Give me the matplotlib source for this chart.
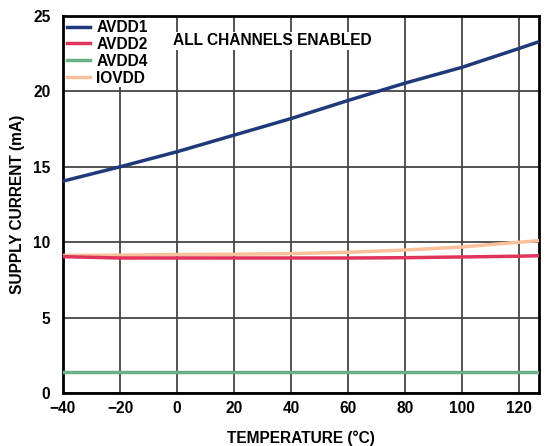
import matplotlib.pyplot as plt

temp = [-40, -20, 0, 20, 40, 60, 80, 100, 120, 127]
avdd1 = [14.05, 15.0, 16.0, 17.1, 18.2, 19.4, 20.55, 21.6, 22.85, 23.3]
avdd2 = [9.04, 8.95, 8.95, 8.95, 8.95, 8.95, 8.97, 9.02, 9.07, 9.1]
avdd4 = [1.37, 1.37, 1.37, 1.37, 1.37, 1.37, 1.37, 1.37, 1.37, 1.37]
iovdd = [9.12, 9.14, 9.18, 9.2, 9.24, 9.33, 9.48, 9.68, 10.0, 10.1]

xticks = [-40, -20, 0, 20, 40, 60, 80, 100, 120]
xticklabels = ['\u221240', '\u221220', '0', '20', '40', '60', '80', '100', '120']
yticks = [0, 5, 10, 15, 20, 25]

plt.rcParams['font.family'] = ['Liberation Sans', 'DejaVu Sans']
plt.rcParams['font.weight'] = 'bold'

fs = 11.2

fig = plt.figure(figsize=(5.6, 4.46), dpi=100)
ax = fig.add_axes([0.1125, 0.119, 0.85, 0.845])

ax.plot(temp, avdd1, color='#1f3a7a', lw=2.5, label='AVDD1', zorder=5)
ax.plot(temp, avdd2, color='#e0345a', lw=2.5, label='AVDD2', zorder=4)
ax.plot(temp, avdd4, color='#6ab187', lw=2.5, label='AVDD4', zorder=4)
ax.plot(temp, iovdd, color='#f9c09b', lw=2.5, label='IOVDD', zorder=3)

ax.set_xlim(-40, 127)
ax.set_ylim(0, 25)
ax.set_xticks(xticks)
ax.set_xticklabels(xticklabels)
ax.set_yticks(yticks)
ax.tick_params(length=0, labelsize=fs)
ax.tick_params(axis='x', pad=6)
ax.tick_params(axis='y', pad=9)
ax.grid(True, color='#444444', lw=1.3)
ax.set_axisbelow(True)
for s in ax.spines.values():
    s.set_linewidth(2)

ax.set_xlabel('TEMPERATURE (\u00b0C)', fontsize=fs, fontweight='bold', labelpad=10)
ax.set_ylabel('SUPPLY CURRENT (mA)', fontsize=fs, fontweight='bold', labelpad=6)

leg = ax.legend(loc='upper left', frameon=True, fontsize=fs, handlelength=1.5,
                handletextpad=0.4, labelspacing=0.12, borderaxespad=0.15,
                borderpad=0.1, fancybox=False)
leg.get_frame().set_facecolor('white')
leg.get_frame().set_edgecolor('none')
leg.get_frame().set_alpha(1)

ax.text(33.5, 23.35, 'ALL CHANNELS ENABLED', fontsize=fs, fontweight='bold',
        ha='center', va='center',
        bbox=dict(facecolor='white', edgecolor='none', pad=1))

fig.savefig('out.png', dpi=100)
